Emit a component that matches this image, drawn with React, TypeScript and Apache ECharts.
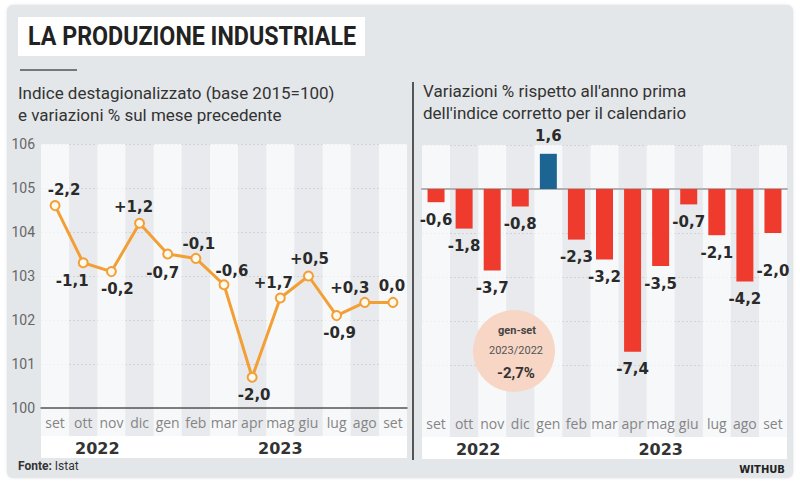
import React, { useEffect, useRef } from "react";
import * as echarts from "echarts";

const months = ["set", "ott", "nov", "dic", "gen", "feb", "mar", "apr", "mag", "giu", "lug", "ago", "set"];
const indexValues = [104.6, 103.3, 103.1, 104.2, 103.5, 103.4, 102.8, 100.7, 102.5, 103.0, 102.1, 102.4, 102.4];
const monthlyChangeLabels = ["-2,2", "-1,1", "-0,2", "+1,2", "-0,7", "-0,1", "-0,6", "-2,0", "+1,7", "+0,5", "-0,9", "+0,3", "0,0"];
const yearlyChange = [-0.6, -1.8, -3.7, -0.8, 1.6, -2.3, -3.2, -7.4, -3.5, -0.7, -2.1, -4.2, -2.0];
const years = [
  { label: "2022", from: 0, to: 3 },
  { label: "2023", from: 4, to: 12 },
];
const leftAxis = { min: 100, max: 106, interval: 1 };
const rightAxis = { min: -10, max: 2, interval: 2 };
const annotationLines = ["gen-set", "2023/2022", "-2,7%"];
const titleText = "LA PRODUZIONE INDUSTRIALE";
const leftSubtitle = ["Indice destagionalizzato (base 2015=100)", "e variazioni % sul mese precedente"];
const rightSubtitle = ["Variazioni % rispetto all'anno prima", "dell'indice corretto per il calendario"];

// layout / styling (kept apart from data)
const lineLabelOffsets = [[9, -16], [-11, 18], [6, 17], [-6, -16], [-5, 19], [3, -14], [8, -14], [2, 18], [-7, -15], [1, -17], [3, 17], [-15, -14], [-1, -16]];
const barLabelOffsets = [[0, 0], [0, 0], [0, 0], [0, 0], [0, 0], [0, 0], [0, 0], [0, 0], [0, 0], [0, 0], [0, 0], [0, 0], [0, 20]];
const LG = { left: 41, width: 366, top: 144, height: 264 };
const RG = { left: 422, width: 365, top: 145, height: 264 };
const ROW_H = 28;
const BAND_H = 22;
const stripes = ["rgba(255,255,255,0.7)", "rgba(255,255,255,0.15)"];
const fmt = (v: number) => v.toFixed(1).replace(".", ",");

export default function App() {
  const ref = useRef<HTMLDivElement>(null);
  useEffect(() => {
    if (!ref.current) return;
    const chart = echarts.init(ref.current, null, { renderer: "svg" });
    const xBase = (gi: number) => ({
      type: "category" as const,
      gridIndex: gi,
      data: months,
      boundaryGap: true,
      axisTick: { show: false },
      splitArea: { show: true, interval: 0, areaStyle: { color: stripes } },
    });
    const labelRow = (gi: number) => ({
      ...xBase(gi),
      axisLine: { show: false },
      axisLabel: { show: true, interval: 0, margin: -21, color: "#858585", fontSize: 14, fontFamily: "Open Sans" },
    });
    const option: any = {
      animation: false,
      backgroundColor: "transparent",
      grid: [
        { left: LG.left, width: LG.width, top: LG.top, height: LG.height },
        { left: LG.left, width: LG.width, top: LG.top + LG.height, height: ROW_H },
        { left: RG.left, width: RG.width, top: RG.top, height: RG.height },
        { left: RG.left, width: RG.width, top: RG.top + RG.height, height: ROW_H },
      ],
      xAxis: [
        { ...xBase(0), axisLabel: { show: false, interval: 0 }, axisLine: { show: true, lineStyle: { color: "#555", width: 1.5 } } },
        labelRow(1),
        { ...xBase(2), axisLabel: { show: false, interval: 0 }, axisLine: { show: true, onZero: true, lineStyle: { color: "#b0b0b0", width: 2 } } },
        labelRow(3),
      ],
      yAxis: [
        {
          type: "value", gridIndex: 0, ...leftAxis,
          axisLine: { show: false }, axisTick: { show: false },
          axisLabel: { color: "#666", fontSize: 14, fontFamily: "Roboto", margin: 6 },
          splitLine: { show: true, lineStyle: { color: "#c9ccd0", type: [2, 2], width: 1 } },
        },
        { type: "value", gridIndex: 1, min: 0, max: 1, show: false },
        {
          type: "value", gridIndex: 2, ...rightAxis,
          axisLine: { show: false }, axisTick: { show: false }, axisLabel: { show: false },
          splitLine: { show: true, showMinLine: false, lineStyle: { color: "#c9ccd0", type: [2, 2], width: 1 } },
        },
        { type: "value", gridIndex: 3, min: 0, max: 1, show: false },
      ],
      series: [
        {
          type: "line", xAxisIndex: 0, yAxisIndex: 0, z: 3,
          data: indexValues.map((v, i) => ({ value: v, label: { offset: lineLabelOffsets[i] } })),
          symbol: "circle", symbolSize: 9,
          lineStyle: { color: "#f2a035", width: 3 },
          itemStyle: { color: "#fff8ec", borderColor: "#f2a035", borderWidth: 2 },
          label: {
            show: true, position: "inside",
            formatter: (p: any) => monthlyChangeLabels[p.dataIndex],
            fontFamily: "DejaVu Sans", fontWeight: "bold", fontSize: 15, color: "#2a2a2a",
          },
        },
        {
          type: "bar", xAxisIndex: 2, yAxisIndex: 2, barWidth: 17, z: 3,
          data: yearlyChange.map((v, i) => ({
            value: v,
            itemStyle: { color: v >= 0 ? "#1c6592" : "#ef3a2e" },
            label: { position: v >= 0 ? "top" : "bottom", offset: barLabelOffsets[i] },
          })),
          label: {
            show: true, distance: 10,
            formatter: (p: any) => fmt(p.value),
            fontFamily: "DejaVu Sans", fontWeight: "bold", fontSize: 15, color: "#2a2a2a",
          },
        },
      ],
    };
    chart.setOption(option);

    const elements: any[] = [
      { type: "rect", shape: { x: 18, y: 17, width: 347, height: 39 }, style: { fill: "#ffffff" }, z: 1 },
      { type: "text", x: 28, y: 37, scaleX: 0.93, z: 2, style: { text: titleText, font: "bold 25px Roboto", fill: "#222", textVerticalAlign: "middle" } },
      { type: "line", shape: { x1: 20, y1: 70, x2: 77, y2: 70 }, style: { stroke: "#777", lineWidth: 2 } },
      { type: "text", x: 18, y: 93, z: 2, style: { text: leftSubtitle[0], font: "17px Roboto", fill: "#333", textVerticalAlign: "middle" } },
      { type: "text", x: 18, y: 115, z: 2, style: { text: leftSubtitle[1], font: "17px Roboto", fill: "#333", textVerticalAlign: "middle" } },
      { type: "text", x: 423, y: 91, z: 2, style: { text: rightSubtitle[0], font: "17px Roboto", fill: "#333", textVerticalAlign: "middle" } },
      { type: "text", x: 423, y: 113, z: 2, style: { text: rightSubtitle[1], font: "17px Roboto", fill: "#333", textVerticalAlign: "middle" } },
      { type: "line", shape: { x1: 413, y1: 82, x2: 413, y2: 460 }, style: { stroke: "#555", lineWidth: 2 } },
      { type: "circle", shape: { cx: 514, cy: 351, r: 41 }, style: { fill: "#f7d6c6" }, z: 1 },
      { type: "text", x: 517, y: 330, z: 5, style: { text: annotationLines[0], font: "bold 11px Roboto", fill: "#444", textAlign: "center", textVerticalAlign: "middle" } },
      { type: "text", x: 516, y: 350, z: 5, style: { text: annotationLines[1], font: "11px Roboto", fill: "#555", textAlign: "center", textVerticalAlign: "middle" } },
      { type: "text", x: 516, y: 373, z: 5, style: { text: annotationLines[2], font: "bold 15px Roboto", fill: "#333", textAlign: "center", textVerticalAlign: "middle" } },
      { type: "text", x: 18, y: 466, z: 2, style: { text: "{b|Fonte:} Istat", font: "12px Roboto", fill: "#333", textVerticalAlign: "middle", rich: { b: { fontWeight: "bold", fontSize: 12, fontFamily: "Roboto", fill: "#333" } } } },
      { type: "text", x: 785, y: 469, z: 2, style: { text: "WITHUB", font: "bold 10px 'DejaVu Sans'", fill: "#222", textAlign: "right", textVerticalAlign: "middle" } },
    ];
    const bands = [
      { g: LG, xi: 0 },
      { g: RG, xi: 2 },
    ];
    bands.forEach(({ g, xi }) => {
      const yTop = g.top + g.height + ROW_H;
      elements.push({ type: "rect", shape: { x: g.left, y: yTop, width: g.width, height: BAND_H }, style: { fill: "#ffffff" }, z: 1 });
      years.forEach((yr) => {
        const a = chart.convertToPixel({ xAxisIndex: xi }, yr.from) as number;
        const b = chart.convertToPixel({ xAxisIndex: xi }, yr.to) as number;
        elements.push({
          type: "text", x: (a + b) / 2, y: yTop + BAND_H / 2 + 1, z: 2,
          style: { text: yr.label, font: "bold 16px 'DejaVu Sans'", fill: "#333", textAlign: "center", textVerticalAlign: "middle" },
        });
      });
    });
    chart.setOption({ graphic: { elements } });
    return () => chart.dispose();
  }, []);
  return (
    <div style={{ position: "fixed", left: 0, top: 0, width: 800, height: 483, background: "#ffffff" }}>
      <div style={{ position: "absolute", left: 7, top: 5, width: 786, height: 473, background: "#e4e7ea", borderRadius: 6, boxShadow: "0 0 3px rgba(0,0,0,0.12)" }} />
      <div ref={ref} style={{ position: "absolute", left: 0, top: 0, width: 800, height: 483 }} />
    </div>
  );
}
